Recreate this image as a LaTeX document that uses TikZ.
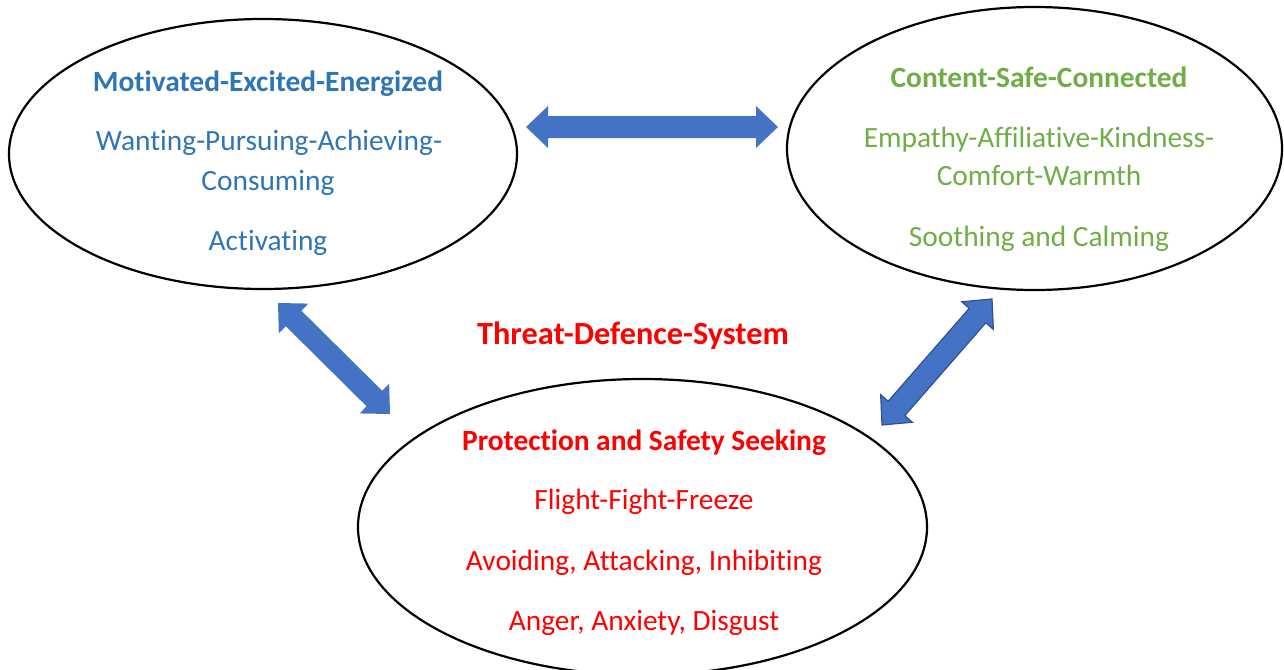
\documentclass[tikz,border=0pt]{standalone}
\usepackage{fontspec}
\setmainfont[Ligatures=NoCommon]{Carlito}
\usetikzlibrary{shapes.geometric,calc}
\definecolor{arrowblue}{HTML}{4472C4}
\definecolor{arrowedge}{HTML}{2F528F}
\definecolor{txtblue}{HTML}{2E75B6}
\definecolor{txtgreen}{HTML}{70AD47}
\definecolor{txtred}{HTML}{FF0000}
\newcommand\dblblockarrow[3][]{%
  \path[blockarrow,#1] (#2)
   -- ($(#2)!22pt!(#3)!21pt!90:(#3)$)
   -- ($(#2)!22pt!(#3)!11pt!90:(#3)$)
   -- ($(#3)!22pt!(#2)!11pt!-90:(#2)$)
   -- ($(#3)!22pt!(#2)!21pt!-90:(#2)$)
   -- (#3)
   -- ($(#3)!22pt!(#2)!21pt!90:(#2)$)
   -- ($(#3)!22pt!(#2)!11pt!90:(#2)$)
   -- ($(#2)!22pt!(#3)!11pt!-90:(#3)$)
   -- ($(#2)!22pt!(#3)!21pt!-90:(#3)$)
   -- cycle;}
\tikzset{
  x=1pt, y=-1pt,
  bubble/.style={draw=black, line width=2.2pt, ellipse, inner sep=0pt},
  label/.style={anchor=base, inner sep=0pt, font=\fontsize{29.4}{35}\selectfont},
  head/.style={label, font=\fontsize{29.4}{35}\selectfont\bfseries},
  title/.style={label, font=\fontsize{32.3}{38}\selectfont\bfseries},
  blockarrow/.style={fill=arrowblue},
  edged/.style={draw=arrowedge, line width=1.2pt, line join=miter},
}
\begin{document}
\begin{tikzpicture}
\useasboundingbox (0,0) rectangle (1284,669);
\clip (0,0) rectangle (1284,669);
% ellipses
\node[bubble, minimum width=508pt, minimum height=270pt] (left) at (263,154) {};
\node[bubble, minimum width=495pt, minimum height=283pt] (right) at (1034.5,148.5) {};
\node[bubble, minimum width=569pt, minimum height=296pt] (bottom) at (642.5,527) {};
% left texts
\node[head, text=txtblue] (l1) at (268,92) {Motivated-Excited-Energized};
\node[label, text=txtblue] (l2) at (269,150) {Wanting-Pursuing-Achieving-};
\node[label, text=txtblue] (l3) at (268,190) {Consuming};
\node[label, text=txtblue] (l4) at (268,250) {Activating};
% right texts
\node[head, text=txtgreen] (r1) at (1039,87) {Content-Safe-Connected};
\node[label, text=txtgreen] (r2) at (1039,147) {Empathy-Affiliative-Kindness-};
\node[label, text=txtgreen] (r3) at (1039,185) {Comfort-Warmth};
\node[label, text=txtgreen] (r4) at (1039,246) {Soothing and Calming};
% bottom texts
\node[title, text=txtred] (t0) at (633,344) {Threat-Defence-System};
\node[head, text=txtred] (b1) at (644,450) {Protection and Safety Seeking};
\node[label, text=txtred] (b2) at (644,509) {Flight-Fight-Freeze};
\node[label, text=txtred] (b3) at (644,570) {Avoiding, Attacking, Inhibiting};
\node[label, text=txtred] (b4) at (644,630) {Anger, Anxiety, Disgust};
% arrow end points
\coordinate (h1) at (526,127);
\coordinate (h2) at (778,127);
\coordinate (d1) at (278,303);
\coordinate (d2) at (390,414);
\coordinate (e1) at (882,425);
\coordinate (e2) at (992,299);
\dblblockarrow{h1}{h2}
\dblblockarrow{d1}{d2}
\dblblockarrow[edged]{e1}{e2}
\end{tikzpicture}
\end{document}
